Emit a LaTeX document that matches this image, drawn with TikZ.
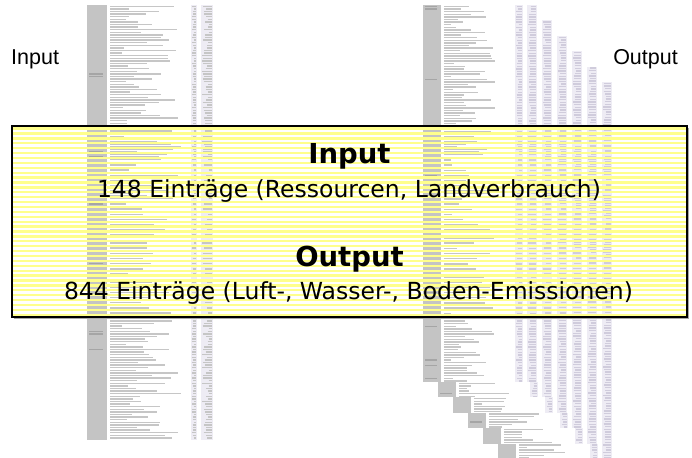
\documentclass[tikz,border=0pt]{standalone}
\usepackage{fontspec}
\setmainfont{DejaVu Sans}
\newfontfamily\arialfont{Liberation Sans}
\definecolor{stripe}{RGB}{255,255,140}
\definecolor{colgray}{RGB}{196,196,196}
\definecolor{numcol}{RGB}{208,204,220}
\definecolor{numband}{RGB}{238,236,244}
\definecolor{txtgray}{RGB}{198,198,198}
\definecolor{labgray}{RGB}{165,165,165}
\begin{document}
\begin{tikzpicture}[x=1pt,y=-1pt,
  txt/.style={line width=1.4pt, draw=txtgray},
  numtxt/.style={line width=1.4pt, draw=numcol},
  lab/.style={line width=1.4pt, draw=labgray},
  sheet/.style={fill=white},
  graycol/.style={fill=colgray},
  band/.style={fill=numband},
  stripeline/.style={draw=stripe, line width=2.3pt},
  boxborder/.style={draw=black, line width=1.4pt},
  headfont/.style={font=\bfseries\fontsize{27.5}{30}\selectfont},
  bodyfont/.style={font=\fontsize{23.5}{26}\selectfont},
  sidefont/.style={font=\arialfont\fontsize{21.5}{24}\selectfont}]
\useasboundingbox (0,0) rectangle (692,457);
\clip (0,0) rectangle (692,457);
\fill[white] (0,0) rectangle (692,457);

% ---------- input table ----------
\pgfmathsetseed{7}
\fill[sheet] (87,5) rectangle (213,440);
\fill[graycol] (87,5) rectangle (107,440);
\fill[band] (191,5) rectangle (197,440);
\fill[band] (201,5) rectangle (213,440);
\foreach \i in {0,...,166}{
  \pgfmathsetmacro\yy{6.3+2.6*\i}
  \pgfmathsetmacro\ll{122+60*rnd}
  \draw[txt] (110,\yy) -- (\ll,\yy);
  \pgfmathsetmacro\aa{192+2*rnd}
  \draw[txt] (\aa,\yy) -- (196,\yy);
  \pgfmathsetmacro\bb{202+7*rnd}
  \draw[txt] (\bb,\yy) -- (212,\yy);
  \pgfmathsetmacro\cc{rnd}
  \ifdim\cc pt<0.07pt \draw[lab] (89,\yy) -- (103,\yy); \fi
}

% ---------- output tables ----------
\foreach \k in {5,4,3,2,1,0}{
  \begin{scope}[shift={({423+15*\k},{5+15.4*\k})}]
    \fill[sheet] (0,0) rectangle (115,377);
    \fill[graycol] (0,0) rectangle (18,377);
    \fill[band] (92,0) rectangle (100,377);
    \fill[band] (104,0) rectangle (114,377);
    \foreach \j in {0,...,144}{
      \pgfmathsetmacro\yy{1.5+2.6*\j}
      \pgfmathsetmacro\ll{28+45*rnd}
      \draw[txt] (21,\yy) -- (\ll,\yy);
      \pgfmathsetmacro\aa{93+3*rnd}
      \draw[numtxt] (\aa,\yy) -- (99,\yy);
      \pgfmathsetmacro\bb{105+3*rnd}
      \draw[numtxt] (\bb,\yy) -- (113,\yy);
      \pgfmathsetmacro\cc{rnd}
      \ifdim\cc pt<0.04pt \draw[lab] (2,\yy) -- (14,\yy); \fi
    }
  \end{scope}
}

% ---------- striped box ----------
\draw[black!35, line width=1.2pt] (14,318.5) -- (688.5,318.5) -- (688.5,128);
\foreach \s in {0,...,38}{
  \draw[stripeline] (12,{128.6+4.9*\s}) -- (687,{128.6+4.9*\s});
}
\draw[boxborder] (12,126) rectangle (687,317);

% ---------- texts ----------
\node[sidefont, anchor=base west, inner sep=0] (inlabel) at (11,65) {Input};
\node[sidefont, anchor=base east, inner sep=0] (outlabel) at (678,65) {Output};
\node[headfont, anchor=base, inner sep=0] (inhead) at (349.5,164) {Input};
\node[bodyfont, anchor=base, inner sep=0] (inbody) at (349,197) {148 Einträge (Ressourcen, Landverbrauch)};
\node[headfont, anchor=base, inner sep=0] (outhead) at (349.5,266.5) {Output};
\node[bodyfont, anchor=base, inner sep=0] (outbody) at (348.5,299) {844 Einträge (Luft-, Wasser-, Boden-Emissionen)};
\end{tikzpicture}
\end{document}
